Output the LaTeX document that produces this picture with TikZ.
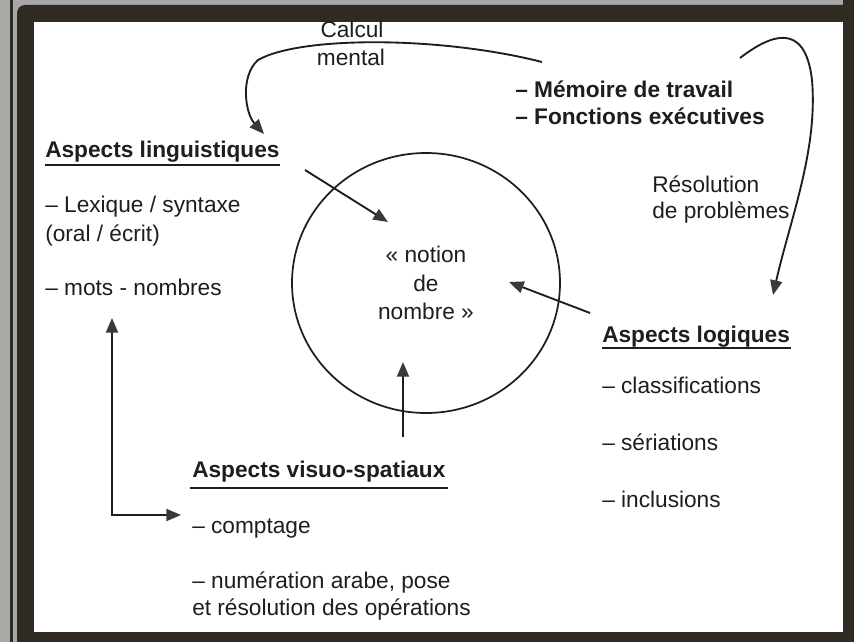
\documentclass[tikz,border=0pt]{standalone}
\usepackage{fontspec}
\setmainfont{Liberation Sans}
\usetikzlibrary{arrows.meta,shapes.geometric}
\definecolor{ink}{HTML}{1E1E1E}
\definecolor{tip}{HTML}{3A3A3A}
\definecolor{mat}{HTML}{A8A8A8}
\definecolor{framecol}{HTML}{302B22}
\begin{document}
\begin{tikzpicture}[x=0.75pt,y=-0.75pt,
  txt/.style={inner sep=0pt, text=ink, font=\fontsize{17}{21}\selectfont},
  head/.style={inner sep=0pt, text=ink, font=\fontsize{17}{21}\selectfont\bfseries},
  link/.style={draw=ink, line width=1.4pt, -{Triangle[length=11pt,width=9pt,color=tip]}},
  twoway/.style={draw=ink, line width=1.5pt, {Triangle[length=11pt,width=9pt,color=tip]}-{Triangle[length=11pt,width=9pt,color=tip]}},
  headrule/.style={draw=ink, line width=1.2pt},
]
\useasboundingbox (0,0) rectangle (854,642);

% mount and frame
\fill[mat] (0,0) rectangle (854,642);
\fill[framecol] (10,0) rectangle (13,642);
\fill[framecol, rounded corners=6pt] (17,5) rectangle (880,680);
\fill[framecol] (843,0) rectangle (854,642);
\fill[white] (34,22) rectangle (843,632);

% central notion
\node[draw=ink, line width=1.3pt, ellipse, inner sep=0pt,
      minimum width=201pt, minimum height=195pt,
      align=center, text=ink, font=\fontsize{17}{21.4}\selectfont]
      (nombre) at (426,283) {«~notion\\de\\nombre~»};

% top labels
\node[txt, anchor=base] (calc1) at (352,38) {Calcul};
\node[txt, anchor=base] (calc2) at (351,66) {mental};
\node[head, anchor=base west] (mem1) at (515,98) {– Mémoire de travail};
\node[head, anchor=base west] (mem2) at (515,124) {– Fonctions exécutives};
\node[txt, anchor=base west] (res1) at (652,192) {Résolution};
\node[txt, anchor=base west] (res2) at (652,218) {de problèmes};

% linguistic aspects
\node[head, anchor=base west] (lingHead) at (45,157) {Aspects linguistiques};
\draw[headrule] (45,165) -- (280,165);
\node[txt, anchor=base west] (ling1) at (45,212) {– Lexique / syntaxe};
\node[txt, anchor=base west] (ling2) at (45,241) {(oral / écrit)};
\node[txt, anchor=base west] (ling3) at (45,295) {– mots - nombres};

% logical aspects
\node[head, anchor=base west] (logHead) at (602,342) {Aspects logiques};
\draw[headrule] (602,348) -- (791,348);
\node[txt, anchor=base west] (log1) at (602,393) {– classifications};
\node[txt, anchor=base west] (log2) at (602,450) {– sériations};
\node[txt, anchor=base west] (log3) at (602,507) {– inclusions};

% visuo-spatial aspects
\node[head, anchor=base west] (visHead) at (192,477) {Aspects visuo-spatiaux};
\draw[headrule] (190,488) -- (448,488);
\node[txt, anchor=base west] (vis1) at (192,533) {– comptage};
\node[txt, anchor=base west] (vis2) at (192,588) {– numération arabe, pose};
\node[txt, anchor=base west] (vis3) at (192,615) {et résolution des opérations};

% connector end points
\coordinate (lingStart) at (305,170);
\coordinate (lingTip) at (388,222);
\coordinate (logStart) at (590,313);
\coordinate (logTip) at (509,282);
\coordinate (visStart) at (403,437);
\coordinate (visTip) at (403,362);
\coordinate (elbUp) at (112,318);
\coordinate (elbRight) at (181,515);
\coordinate (calcStart) at (542,62);
\coordinate (calcTip) at (264,134);
\coordinate (resStart) at (740,58);
\coordinate (resTip) at (773,295);

% connectors
\draw[link] (lingStart) -- (lingTip);
\draw[link] (logStart) -- (logTip);
\draw[link] (visStart) -- (visTip);
\draw[twoway] (elbUp) |- (elbRight);
\draw[link] (calcStart) .. controls (440,36) and (300,36) .. (258,60)
                        .. controls (240,76) and (245,113) .. (calcTip);
\draw[link] (resStart) .. controls (770,35) and (805,20) .. (812,80)
                       .. controls (818,150) and (790,220) .. (resTip);
\end{tikzpicture}
\end{document}
